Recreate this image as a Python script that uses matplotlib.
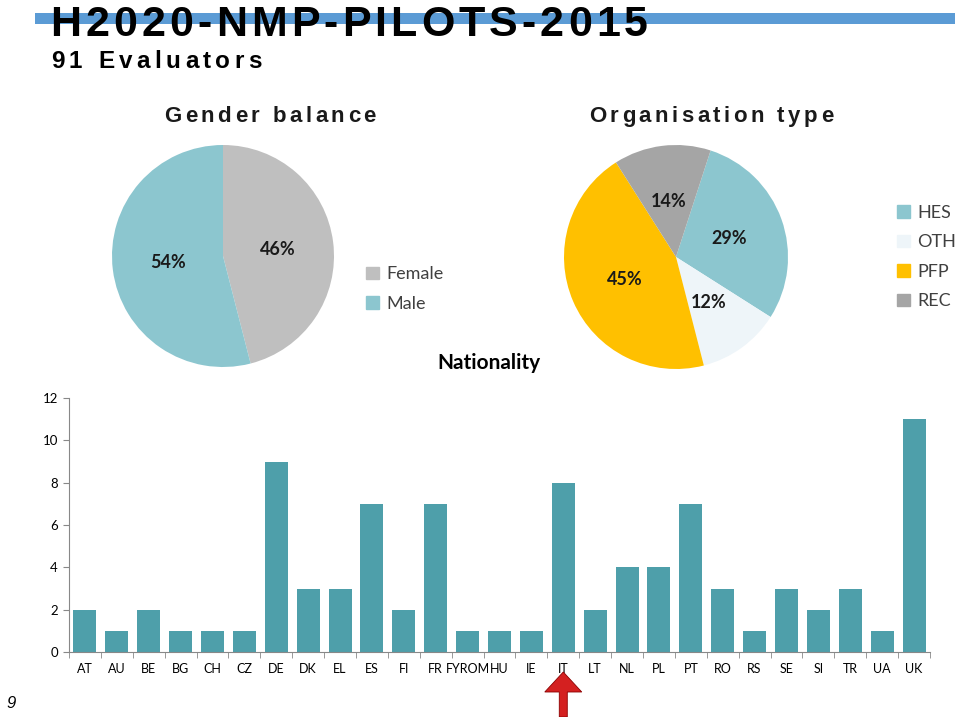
import numpy as np
import matplotlib
matplotlib.use('Agg')
import matplotlib.pyplot as plt
from matplotlib.patches import Rectangle, Patch, FancyArrow

# Data
gender_labels = ['Female', 'Male']
gender_values = [46, 54]
gender_colors = ['#BFBFBF', '#8CC6CF']

org_labels = ['HES', 'OTH', 'PFP', 'REC']
org_values = [29, 12, 45, 14]
org_colors = ['#8CC6CF', '#EEF5F9', '#FFC000', '#A5A5A5']

countries = ['AT', 'AU', 'BE', 'BG', 'CH', 'CZ', 'DE', 'DK', 'EL', 'ES', 'FI', 'FR',
             'FYROM', 'HU', 'IE', 'IT', 'LT', 'NL', 'PL', 'PT', 'RO', 'RS', 'SE', 'SI',
             'TR', 'UA', 'UK']
counts = [2, 1, 2, 1, 1, 1, 9, 3, 3, 7, 2, 7, 1, 1, 1, 8, 2, 4, 4, 7, 3, 1, 3, 2, 3, 1, 11]

W, H = 959, 717
fig = plt.figure(figsize=(W / 100, H / 100), dpi=100)
renderer = fig.canvas.get_renderer()

body = ['Lato', 'DejaVu Sans']
head = ['Liberation Sans', 'DejaVu Sans']


def fx(px):
    return px / W


def fy(py):
    return 1 - py / H


def text_width(s, **kw):
    t = fig.text(0, 0, s, **kw)
    w = t.get_window_extent(renderer).width
    t.remove()
    return w


def spaced_text(x0, x1, y, s, **kw):
    # spread a string letter by letter so it fills x0..x1 (pixels), baseline at y
    ref = text_width('x', **kw)
    offs = [text_width(s[:i] + 'x', **kw) - ref for i in range(len(s))]
    gap = (x1 - x0 - text_width(s, **kw)) / (len(s) - 1)
    for i, ch in enumerate(s):
        if ch == ' ':
            continue
        fig.text(fx(x0 + offs[i] + gap * i), fy(y), ch, va='baseline', ha='left', **kw)


# title band
fig.add_artist(Rectangle((fx(35), fy(24)), fx(920), 11 / H, color='#5B9BD5', lw=0))
spaced_text(50, 648, 36, 'H2020-NMP-PILOTS-2015', family=head, fontsize=31, weight='bold')
spaced_text(51, 262, 68, '91 Evaluators', family=head, fontsize=17.5, weight='bold')
spaced_text(164, 376, 122, 'Gender balance', family=head, fontsize=16,
            weight='bold', color='#1a1a1a')
spaced_text(589, 833, 122, 'Organisation type', family=head, fontsize=16,
            weight='bold', color='#1a1a1a')
fig.text(fx(489), fy(363), 'Nationality', family=body, fontsize=15, weight='bold',
         va='center', ha='center')
fig.text(fx(6), fy(703), '9', family=head, fontsize=12, style='italic',
         va='center', ha='left')


def pie_axes(cx, cy, r):
    return fig.add_axes([fx(cx - r), fy(cy + r), 2 * r / W, 2 * r / H])


# Gender pie
ax1 = pie_axes(223, 256, 111)
ax1.pie(gender_values, colors=gender_colors, startangle=90, counterclock=False,
        autopct='%.0f%%', pctdistance=0.5,
        textprops=dict(family=body, fontsize=13, weight='bold', color='#1a1a1a'))
ax1.set_xlim(-1, 1)
ax1.set_ylim(-1, 1)
h1 = [Patch(color=c) for c in gender_colors]
fig.legend(h1, gender_labels, loc='center left', bbox_to_anchor=(fx(350), fy(289)),
           frameon=False, prop=dict(family=body, size=13), labelcolor='#404040',
           handlelength=0.7, handleheight=0.7, handletextpad=0.4, labelspacing=0.75)

# Organisation pie
ax2 = pie_axes(676, 257, 112)
ax2.pie(org_values, colors=org_colors, startangle=72, counterclock=False,
        autopct='%.0f%%', pctdistance=0.5,
        textprops=dict(family=body, fontsize=13, weight='bold', color='#1a1a1a'))
ax2.set_xlim(-1, 1)
ax2.set_ylim(-1, 1)
h2 = [Patch(color=c) for c in org_colors]
fig.legend(h2, org_labels, loc='center left', bbox_to_anchor=(fx(881), fy(257)),
           frameon=False, prop=dict(family=body, size=13), labelcolor='#404040',
           handlelength=0.7, handleheight=0.7, handletextpad=0.4, labelspacing=0.75)

# Nationality bars
ax3 = fig.add_axes([fx(69), fy(652), fx(861), (652 - 398) / H])
x = np.arange(len(countries))
ax3.bar(x, counts, width=0.72, color='#4E9FAA')
ax3.set_xlim(-0.5, len(countries) - 0.5)
ax3.set_ylim(0, 12)
ax3.set_yticks(range(0, 13, 2))
ax3.set_xticks(x)
ax3.set_xticklabels(countries)
ax3.set_xticks(np.arange(-0.5, len(countries), 1), minor=True)
ax3.tick_params(axis='x', which='major', length=0, pad=8)
ax3.tick_params(axis='x', which='minor', length=4, color='#888888', direction='out')
ax3.tick_params(axis='y', length=4, color='#888888', pad=4)
for lab in ax3.get_xticklabels():
    lab.set_family(body)
    lab.set_fontsize(9)
for lab in ax3.get_yticklabels():
    lab.set_family(body)
    lab.set_fontsize(9.5)
for s in ['top', 'right']:
    ax3.spines[s].set_visible(False)
for s in ['left', 'bottom']:
    ax3.spines[s].set_color('#888888')

# red arrow under IT
it = countries.index('IT')
xa = ax3.transData.transform((it, 0))[0] / W
arrow = FancyArrow(xa, fy(717), 0, 45 / H, width=8 / W, head_width=37 / W,
                   head_length=20 / H, length_includes_head=True,
                   color='#D42020', ec='#8B0000', lw=0.6, transform=fig.transFigure)
fig.add_artist(arrow)

fig.savefig('out.png', dpi=100)
